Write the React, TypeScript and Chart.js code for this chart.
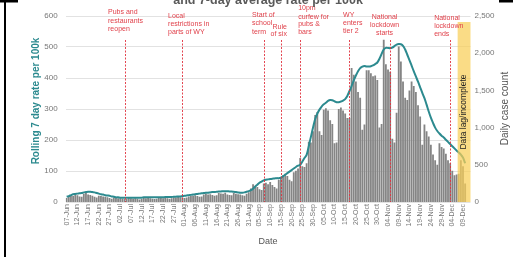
import { useEffect, useRef } from 'react';
import { Chart, registerables } from 'chart.js';

Chart.register(...registerables);

const MONTHS = ['Jan', 'Feb', 'Mar', 'Apr', 'May', 'Jun', 'Jul', 'Aug', 'Sep', 'Oct', 'Nov', 'Dec'];
const DAY_COUNT = 189; // 07-Jun .. 12-Dec
const dateLabels: string[] = [];
for (let i = 0; i < DAY_COUNT; i++) {
  const d = new Date(2020, 5, 7 + i);
  dateLabels.push(`${String(d.getDate()).padStart(2, '0')}-${MONTHS[d.getMonth()]}`);
}

const dailyCases: number[] = [
  55, 70, 85, 80, 95, 90, 75,
  70, 110, 120, 100, 95, 85, 70,
  60, 85, 80, 75, 70, 65, 55,
  45, 60, 55, 50, 50, 45, 40,
  40, 55, 50, 45, 50, 45, 35,
  40, 55, 50, 55, 50, 45, 40,
  45, 55, 60, 50, 55, 50, 45,
  50, 65, 60, 70, 65, 60, 55,
  60, 75, 80, 85, 90, 80, 70,
  75, 100, 110, 100, 105, 95, 85,
  90, 120, 115, 110, 125, 100, 95,
  90, 120, 110, 105, 100, 90, 85,
  110, 130, 180, 240, 210, 200, 170,
  160, 250, 260, 240, 270, 230, 200,
  180, 300, 340, 360, 380, 350, 300,
  280, 400, 420, 450, 590, 480, 470,
  520, 810, 800, 950, 1170, 1210, 950,
  900, 1240, 1260, 1230, 1100, 1050, 790,
  800, 1250, 1270, 1230, 1190, 1130, 1130,
  1800, 1710, 1620, 1480, 1400, 970, 1040,
  1770, 1770, 1730, 1690, 1700, 1640, 1000,
  1050, 2180, 1850, 1780, 1750, 850, 800,
  1200, 2090, 1890, 1620, 1400, 1370, 1500,
  1620, 1560, 1480, 1300, 1150, 770, 1040,
  950, 880, 770, 640, 560, 500, 790,
  740, 720, 650, 560, 520, 420, 360,
  370, 380, 560, 480, 250,
];

const rate7Day: number[] = [
  17, 19, 22, 25, 26, 27, 28, 29, 31, 32, 33,
  33, 32, 31, 29, 27, 25, 24, 22, 21, 20,
  18, 17, 15, 15, 14, 14, 14, 14, 14, 14,
  14, 14, 14, 14, 14, 15, 15, 15, 15, 15,
  15, 15, 15, 15, 15, 16, 16, 16, 16, 17,
  17, 18, 18, 19, 20, 21, 22, 23, 24, 25,
  26, 27, 28, 29, 30, 30, 31, 32, 32, 33,
  34, 34, 35, 35, 35, 34, 34, 33, 32, 31,
  30, 30, 31, 33, 35, 38, 43, 50, 56, 62,
  66, 70, 72, 73, 74, 75, 76, 77, 77, 78,
  83, 88, 93, 98, 103, 108, 113, 117, 120, 130,
  142, 152, 180, 210, 240, 268, 285, 298, 308, 315,
  320, 326, 329, 328, 325, 322, 322, 324, 327, 332,
  342, 358, 374, 392, 408, 422, 432, 437, 439, 437,
  437, 438, 441, 445, 450, 462, 478, 492, 497, 497,
  496, 498, 503, 508, 510, 509, 504, 492, 475, 458,
  440, 422, 405, 388, 370, 352, 335, 314, 292, 272,
  255, 240, 229, 221, 214, 208, 201, 194, 187, 180,
  173, 166, 160, 153, 143, 125,
];

const leftTicks = [0, 100, 200, 300, 400, 500, 600];
const rightTicks = [0, 500, 1000, 1500, 2000, 2500];

const eventDates = ['04-Jul', '31-Jul', '07-Sep', '15-Sep', '24-Sep', '17-Oct', '05-Nov', '03-Dec'];
const eventTexts: string[][] = [
  ['Pubs and', 'restaurants', 'reopen'],
  ['Local', 'restrictions in', 'parts of WY'],
  ['Start of', 'school', 'term'],
  ['Rule', 'of six'],
  ['10pm', 'curfew for', 'pubs &', 'bars'],
  ['WY', 'enters', 'tier 2'],
  ['National', 'lockdown', 'starts'],
  ['National', 'lockdown', 'ends'],
];
// label placement (style): offset from line, alignment, line centre y values
const eventStyle: { dx: number; align: CanvasTextAlign; ys: number[] }[] = [
  { dx: -16.5, align: 'left', ys: [12.3, 20.7, 29] },
  { dx: -14.3, align: 'left', ys: [15.7, 24, 32.3] },
  { dx: -11.7, align: 'left', ys: [15, 23.3, 31.7] },
  { dx: 6, align: 'right', ys: [26.7, 34.3] },
  { dx: -2, align: 'left', ys: [8.3, 16.7, 24.3, 32.3] },
  { dx: -6.4, align: 'left', ys: [15, 23.3, 31] },
  { dx: -5.6, align: 'center', ys: [16.7, 25, 33.3] },
  { dx: -16, align: 'left', ys: [18.3, 26, 34.3] },
];
const lagStart = '07-Dec';

const FONT = "'Liberation Sans', Arial, sans-serif";
const TEAL = '#2c8a8f';
const RED = '#e0404a';

const overlayPlugin = {
  id: 'overlay',
  afterDatasetsDraw(chart: any) {
    const { ctx, chartArea, scales } = chart;
    const xs = scales.x;
    const half = (xs.getPixelForValue(1) - xs.getPixelForValue(0)) / 2;
    ctx.save();
    // event lines
    ctx.strokeStyle = 'rgba(224,50,62,0.9)';
    ctx.lineWidth = 1;
    ctx.setLineDash([2, 1.5]);
    eventDates.forEach((d) => {
      const px = Math.round(xs.getPixelForValue(dateLabels.indexOf(d))) + 0.5;
      ctx.beginPath();
      ctx.moveTo(px, 40);
      ctx.lineTo(px, chartArea.bottom);
      ctx.stroke();
    });
    ctx.setLineDash([]);
    // data lag band
    const bx = xs.getPixelForValue(dateLabels.indexOf(lagStart)) - half;
    ctx.fillStyle = 'rgba(248,206,88,0.72)';
    ctx.fillRect(bx, 22, chartArea.right - bx, chartArea.bottom - 22);
    ctx.fillStyle = '#222';
    ctx.font = `8.5px ${FONT}`;
    ctx.textAlign = 'center';
    ctx.textBaseline = 'middle';
    ctx.translate((bx + chartArea.right) / 2, 112);
    ctx.rotate(-Math.PI / 2);
    ctx.fillText('Data lag/incomplete', 0, 0);
    ctx.restore();

    // event labels
    ctx.save();
    ctx.fillStyle = RED;
    ctx.font = `7px ${FONT}`;
    ctx.textBaseline = 'middle';
    eventDates.forEach((d, k) => {
      const px = xs.getPixelForValue(dateLabels.indexOf(d));
      const st = eventStyle[k];
      ctx.textAlign = st.align;
      eventTexts[k].forEach((t, j) => ctx.fillText(t, px + st.dx, st.ys[j]));
    });
    ctx.restore();
  },
  afterDraw(chart: any) {
    const { ctx, chartArea } = chart;
    ctx.save();
    // title (cut off at top)
    ctx.fillStyle = '#5a5a5a';
    ctx.font = `bold 12.5px ${FONT}`;
    ctx.textAlign = 'center';
    ctx.textBaseline = 'alphabetic';
    ctx.fillText('and 7-day average rate per 100k', (chartArea.left + chartArea.right) / 2, 4);
    // left axis title
    ctx.save();
    ctx.fillStyle = TEAL;
    ctx.font = `bold 10px ${FONT}`;
    ctx.textBaseline = 'middle';
    ctx.translate(36, 101);
    ctx.rotate(-Math.PI / 2);
    ctx.fillText('Rolling 7 day rate per 100k', 0, 0);
    ctx.restore();
    // right axis title
    ctx.save();
    ctx.fillStyle = '#555';
    ctx.font = `10px ${FONT}`;
    ctx.textBaseline = 'middle';
    ctx.translate(505, 108.5);
    ctx.rotate(-Math.PI / 2);
    ctx.fillText('Daily case count', 0, 0);
    ctx.restore();
    // x axis title
    ctx.fillStyle = '#555';
    ctx.font = `9px ${FONT}`;
    ctx.textBaseline = 'middle';
    ctx.fillText('Date', (chartArea.left + chartArea.right) / 2, 241.5);
    // frame remnants
    ctx.fillStyle = '#000';
    ctx.fillRect(0, 0, 18, 2.5);
    ctx.fillRect(4, 0, 2, 257);
    ctx.fillRect(499, 0, 14, 2.5);
    ctx.restore();
  },
};

export default function App() {
  const ref = useRef<HTMLCanvasElement>(null);
  useEffect(() => {
    if (!ref.current) return;
    const chart = new Chart(ref.current, {
      type: 'bar',
      data: {
        labels: dateLabels,
        datasets: [
          {
            type: 'line',
            label: 'Rolling 7 day rate per 100k',
            data: rate7Day,
            yAxisID: 'y',
            borderColor: TEAL,
            borderWidth: 2,
            pointRadius: 0,
            tension: 0.35,
            order: 0,
          } as any,
          {
            type: 'bar',
            label: 'Daily case count',
            data: dailyCases,
            yAxisID: 'y1',
            backgroundColor: '#858585',
            barPercentage: 0.85,
            categoryPercentage: 1,
            order: 1,
          },
        ],
      },
      options: {
        responsive: false,
        animation: false,
        devicePixelRatio: 1,
        layout: { padding: { top: 16, left: 0, right: 0, bottom: 0 } },
        plugins: { legend: { display: false }, tooltip: { enabled: false }, title: { display: false } },
        scales: {
          x: {
            grid: { display: false, drawTicks: false },
            border: { display: false },
            ticks: {
              autoSkip: false,
              minRotation: 90,
              maxRotation: 90,
              padding: 2,
              color: '#777',
              font: { size: 7, family: FONT },
              callback: (_v: any, i: number) => (i % 5 === 0 ? dateLabels[i] : ''),
            },
            afterFit: (s: any) => { s.height = 55; },
          },
          y: {
            position: 'left',
            min: 0,
            max: 600,
            grid: { color: '#e2e2e2', drawTicks: false },
            border: { display: false },
            afterBuildTicks: (s: any) => { s.ticks = leftTicks.map((v) => ({ value: v })); },
            ticks: { padding: 8, color: '#777', font: { size: 8, family: FONT } },
            afterFit: (s: any) => { s.width = 65.6; },
          },
          y1: {
            position: 'right',
            min: 0,
            max: 2500,
            grid: { display: false, drawTicks: false },
            border: { display: false },
            afterBuildTicks: (s: any) => { s.ticks = rightTicks.map((v) => ({ value: v })); },
            ticks: { padding: 4, color: '#777', font: { size: 8, family: FONT } },
            afterFit: (s: any) => { s.width = 48.5; },
          },
        },
      },
      plugins: [overlayPlugin],
    });
    return () => chart.destroy();
  }, []);
  return (
    <canvas
      ref={ref}
      width={519}
      height={257}
      style={{ position: 'fixed', left: 0, top: 0, width: 519, height: 257, display: 'block', background: '#fff' }}
    />
  );
}
